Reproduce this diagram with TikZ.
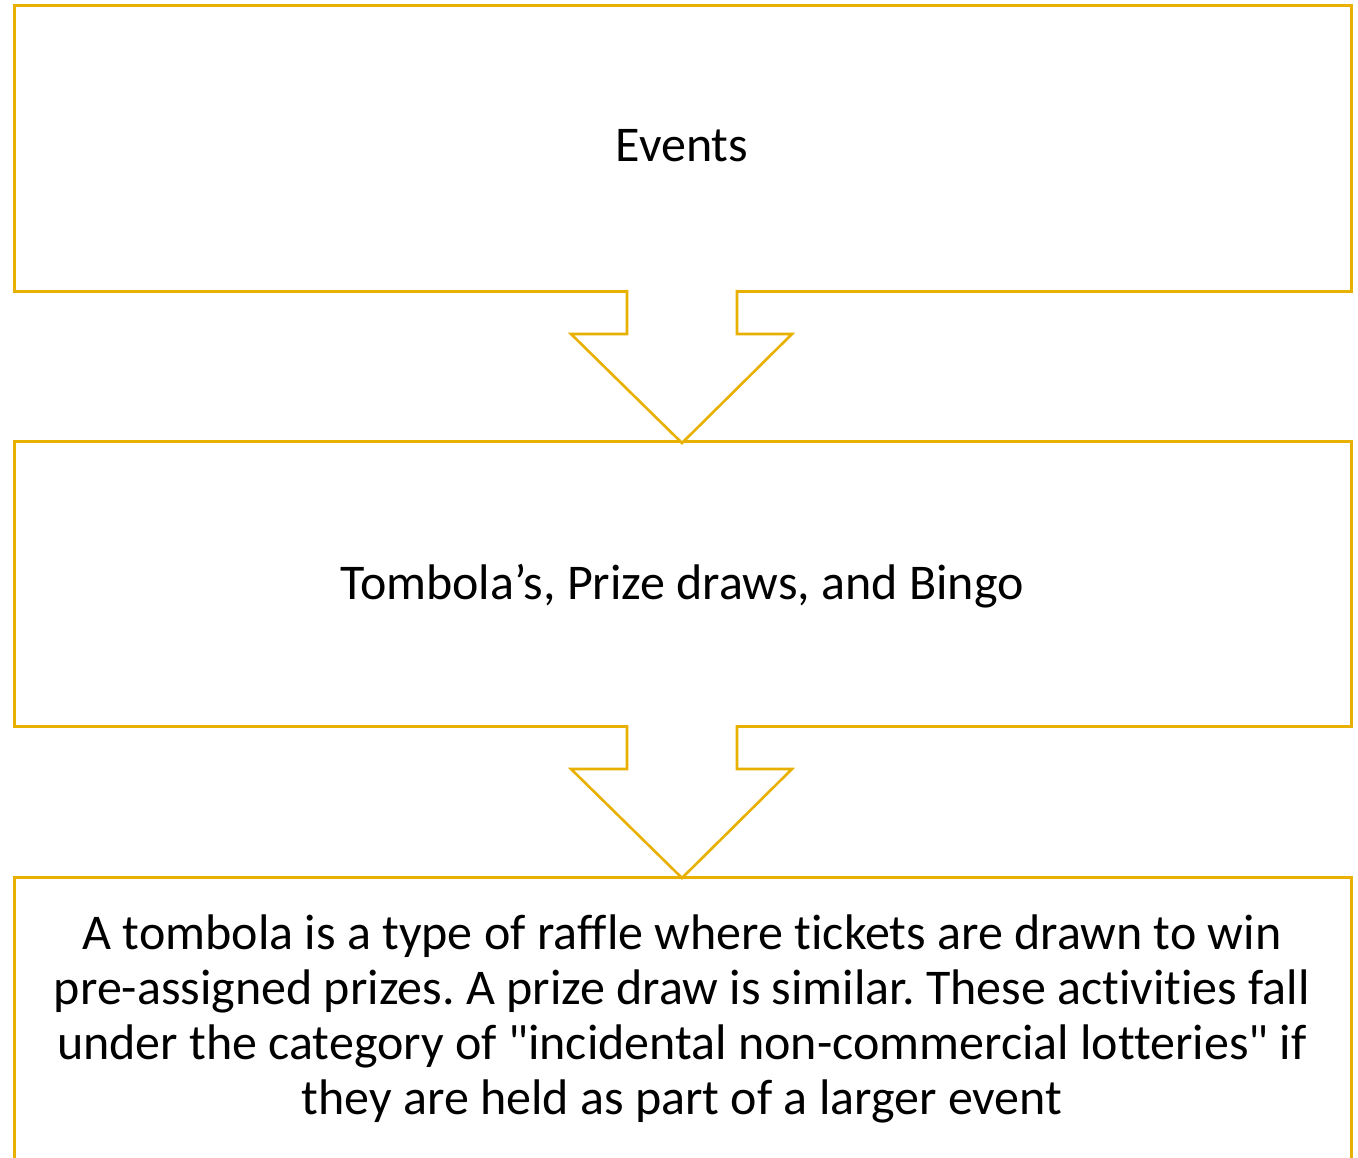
\documentclass[tikz,border=0pt]{standalone}
\usepackage{fontspec}
\setmainfont{Carlito}[Ligatures={TeXOff,NoCommon}]
\frenchspacing
\definecolor{gold}{RGB}{232,176,0}
\begin{document}
\begin{tikzpicture}[x=1pt,y=-1pt,
  box/.style={draw=gold,line width=2.6pt,fill=white,inner sep=0pt,anchor=north west},
  arrowline/.style={draw=gold,line width=2.6pt,line join=miter},
  lbl/.style={font=\fontsize{50}{55}\selectfont,align=center,text=black,inner sep=0pt,anchor=base}]
\useasboundingbox (0,0) rectangle (1358,1158);
\clip (0,0) rectangle (1358,1158);
\node[box,minimum width=1337pt,minimum height=286pt] (b1) at (13,4) {};
\node[box,minimum width=1337pt,minimum height=285pt] (b2) at (13,440) {};
\node[box,minimum width=1337pt,minimum height=420pt] (b3) at (13,876) {};
\node[lbl] (t1) at (682,162) {Events};
\node[lbl] (t2) at (682,599) {Tombola’s, Prize draws, and Bingo};
\node[lbl] (t3) at (682,1114) {A tombola is a type of raffle where tickets are drawn to win\\pre-assigned prizes. A prize draw is similar. These activities fall\\under the category of "incidental non-commercial lotteries" if\\they are held as part of a larger event};
% arrows
\foreach \y/\n in {290/a1,725/a2}{
  \coordinate (\n s) at (682,\y);
  \fill[white] (627,\y-2) -- (737,\y-2) -- (737,\y+44) -- (792,\y+44) -- (682,\y+153) -- (571,\y+44) -- (627,\y+44) -- cycle;
  \draw[arrowline] (627,\y) -- (627,\y+44) -- (571,\y+44) -- (682,\y+153) -- (792,\y+44) -- (737,\y+44) -- (737,\y);
}
\end{tikzpicture}
\end{document}
